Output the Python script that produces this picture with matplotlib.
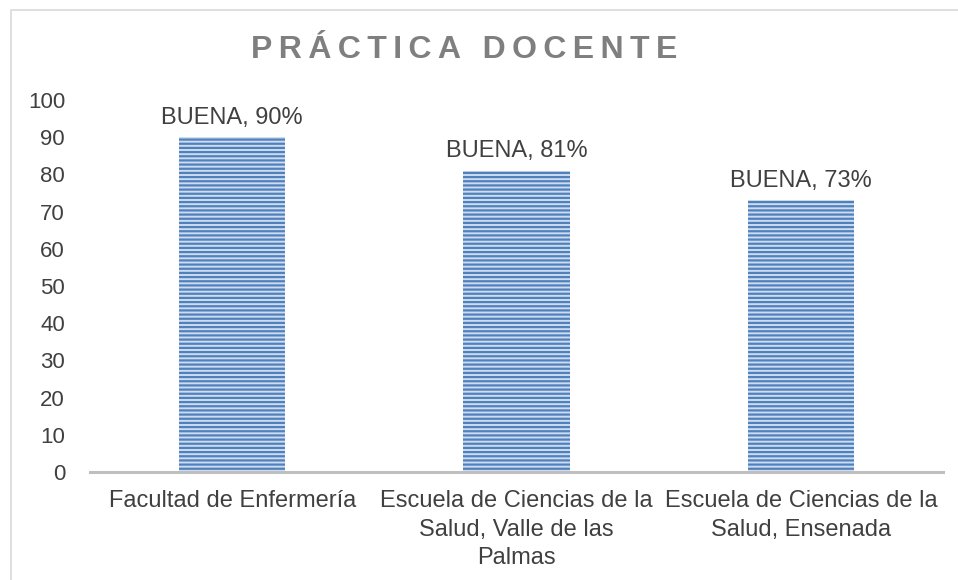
import matplotlib.pyplot as plt
from matplotlib.patches import Rectangle

plt.rcParams['font.family'] = ['Liberation Sans', 'DejaVu Sans']
plt.rcParams['hatch.linewidth'] = 1.6

categories = ['Facultad de Enfermería',
              'Escuela de Ciencias de la\nSalud, Valle de las\nPalmas',
              'Escuela de Ciencias de la\nSalud, Ensenada']
values = [90, 81, 73]
labels = ['BUENA, 90%', 'BUENA, 81%', 'BUENA, 73%']
yticks = [0, 10, 20, 30, 40, 50, 60, 70, 80, 90, 100]

fig = plt.figure(figsize=(9.58, 5.8), dpi=100)
# outer chart frame
fig.patches.append(Rectangle((11/958, -0.01), 1.0, 1 - 10/580 + 0.01,
                             transform=fig.transFigure, fill=False,
                             edgecolor='#d9d9d9', linewidth=1.2))

ax = fig.add_axes([90/958, 108/580, 853/958, 372/580])
x = range(len(categories))
bars = ax.bar(x, values, width=0.375, color='#cfdcef', edgecolor='#4f81bd',
              hatch='----', linewidth=0)
for b, lab in zip(bars, labels):
    ax.text(b.get_x() + b.get_width()/2, b.get_height() + 2.3, lab,
            ha='center', va='bottom', fontsize=17, color='#404040')

ax.set_xlim(-0.5, 2.5)
ax.set_ylim(0, 100)
ax.set_yticks(yticks)
ax.set_xticks(list(x))
ax.set_xticklabels(categories, fontsize=17, color='#404040', linespacing=1.38)
ax.tick_params(axis='y', labelsize=16, labelcolor='#404040', length=0, pad=18)
ax.tick_params(axis='x', length=0, pad=13)
for s in ['top', 'right', 'left']:
    ax.spines[s].set_visible(False)
ax.spines['bottom'].set_color('#bfbfbf')
ax.spines['bottom'].set_linewidth(2.2)

fig.text(0.485, 0.913, '\u2009'.join('PRÁCTICA DOCENTE'), ha='center', va='center',
         fontsize=23, fontweight='bold', color='#7f7f7f')

fig.savefig('out.png', dpi=100)
